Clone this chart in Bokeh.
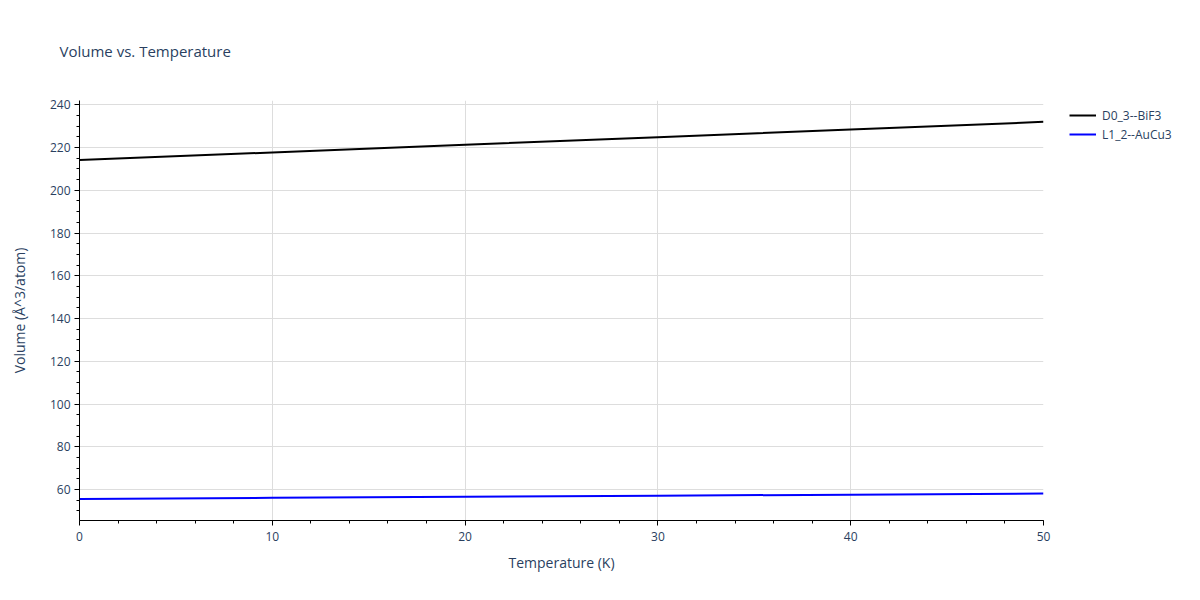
from bokeh.plotting import figure
from bokeh.models import Range1d, Legend, LegendItem, Title, SingleIntervalTicker
from bokeh.embed import file_html
from bokeh.resources import INLINE

temperature = [0, 10, 20, 30, 40, 50]
vol_d03_bif3 = [214.2, 217.7, 221.3, 224.8, 228.4, 232.0]
vol_l12_aucu3 = [55.6, 56.1, 56.6, 57.1, 57.6, 58.1]
series_names = ["D0_3--BiF3", "L1_2--AuCu3"]
series_colors = ["#000000", "#0000ff"]
chart_title = "Volume vs. Temperature"

FONT = "Open Sans"
TXT = "#2a3f5f"

p = figure(frame_width=964, frame_height=420, output_backend="svg", toolbar_location=None,
           x_range=Range1d(0, 50), y_range=Range1d(45.5, 242),
           min_border_left=79, min_border_right=0, min_border_top=100, min_border_bottom=64)
p.title = None
p.outline_line_color = None
p.background_fill_color = "white"
p.border_fill_color = "white"

t = Title(text=chart_title, text_font=FONT, text_font_size="15px",
          text_color=TXT, text_font_style="normal", align="left", offset=-20, standoff=75,
          vertical_align="top")
p.add_layout(t, "above")

r1 = p.line(temperature, vol_d03_bif3, line_color=series_colors[0], line_width=2)
r2 = p.line(temperature, vol_l12_aucu3, line_color=series_colors[1], line_width=2)

legend = Legend(items=[LegendItem(label=series_names[0], renderers=[r1]),
                       LegendItem(label=series_names[1], renderers=[r2])],
                location=(26, 377), border_line_color=None, background_fill_alpha=0,
                label_text_font=FONT, label_text_font_size="12px", label_text_color=TXT,
                glyph_width=27, glyph_height=18, spacing=1, padding=2, margin=0,
                label_standoff=6, label_height=18)
p.add_layout(legend, "right")

p.xaxis.ticker = SingleIntervalTicker(interval=10, num_minor_ticks=5)
p.yaxis.ticker = SingleIntervalTicker(interval=20, num_minor_ticks=4)
p.xgrid.ticker = p.xaxis.ticker
p.ygrid.ticker = p.yaxis.ticker

for ax in (p.xaxis[0], p.yaxis[0]):
    ax.axis_line_color = "black"
    ax.major_tick_line_color = "black"
    ax.minor_tick_line_color = "black"
    ax.major_tick_out = 5
    ax.major_tick_in = 0
    ax.minor_tick_out = 3
    ax.minor_tick_in = 0
    ax.major_label_text_font = FONT
    ax.major_label_text_font_size = "12px"
    ax.major_label_text_color = TXT
    ax.axis_label_text_font = FONT
    ax.axis_label_text_font_size = "14px"
    ax.axis_label_text_color = TXT
    ax.axis_label_text_font_style = "normal"

p.xaxis.axis_label = "Temperature (K)"
p.yaxis.axis_label = "Volume (Å^3/atom)"
p.xaxis.major_label_standoff = 6
p.yaxis.major_label_standoff = 4
p.xaxis.axis_label_standoff = 9
p.yaxis.axis_label_standoff = 18

p.xgrid.grid_line_color = "#dddddd"
p.ygrid.grid_line_color = "#dddddd"

open("out.html", "w").write(file_html(p, INLINE))
